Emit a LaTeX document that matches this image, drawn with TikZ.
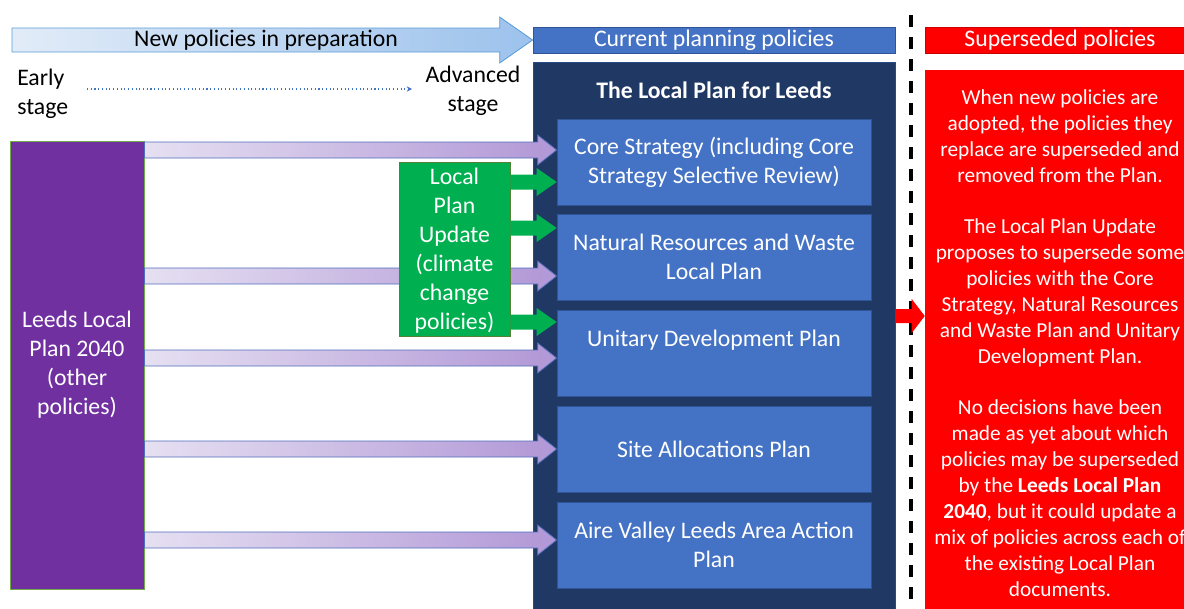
\documentclass[tikz,border=0pt]{standalone}
\usepackage{fontspec}
\setmainfont{Carlito}
\usetikzlibrary{calc,arrows.meta}
\definecolor{navy}{HTML}{203864}
\definecolor{bluebox}{HTML}{4472C4}
\definecolor{blueedge}{HTML}{2F5597}
\definecolor{purplebox}{HTML}{7030A0}
\definecolor{greenbox}{HTML}{00B050}
\definecolor{greenedge}{HTML}{548235}
\definecolor{lightgreen}{HTML}{70AD47}
\definecolor{redbox}{HTML}{FF0000}
\definecolor{topl}{HTML}{E2ECF8}
\definecolor{topr}{HTML}{9CC2EC}
\definecolor{topedge}{HTML}{5B9BD5}
\definecolor{purl}{HTML}{E6E0F2}
\definecolor{purr}{HTML}{B197D6}
\definecolor{puredge}{HTML}{4F6DBA}
\newcommand\pxu{0.75pt}
% #1 style, #2 from, #3 to, #4 half shaft, #5 half head, #6 head length
\newcommand\fatarrow[6]{%
  \path[#1] ($(#2)+(0,-#4)$) -- ($(#3)+(-#6,-#4)$) -- ($(#3)+(-#6,-#5)$) -- (#3)
    -- ($(#3)+(-#6,#5)$) -- ($(#3)+(-#6,#4)$) -- ($(#2)+(0,#4)$) -- cycle;}
\begin{document}
\begin{tikzpicture}[x=0.75pt,y=-0.75pt,
  every node/.style={font=\fontsize{17.8}{21.75}\selectfont, text=white, align=center, inner sep=0pt},
  planbox/.style={fill=bluebox, draw=blueedge, line width=0.5pt, minimum width=314*\pxu, minimum height=86*\pxu},
  hdr/.style={line width=0.5pt, minimum height=26*\pxu},
  toparrow/.style={left color=topl, right color=topr, draw=topedge, line width=0.6pt},
  purplearrow/.style={left color=purl, right color=purr, draw=puredge, line width=0.6pt},
  greenarrow/.style={fill=greenbox},
  redarrow/.style={fill=redbox}
]
\useasboundingbox (0,0) rectangle (1184,608);
\clip (0,0) rectangle (1184,608);

% header row
\node[hdr, fill=bluebox, draw=blueedge, minimum width=362*\pxu] (cur) at (714,40) {Current planning policies};
\node[hdr, fill=redbox, draw=red!80!black, minimum width=270*\pxu] (supt) at (1060,40) {Superseded policies};
\coordinate (ta) at (12,40);
\fatarrow{toparrow}{ta}{cur.west}{12}{23}{33}
\node[text=black] (npp) at (266,40) {New policies in preparation};

% stages
\node[text=black, align=left, anchor=west] (early) at (17,94) {Early\\stage};
\node[text=black] (adv) at (473,90.5) {Advanced\\stage};
\coordinate (d1) at (87,89);
\coordinate (d2) at (412,89);
\draw[bluebox, dotted, line width=0.8pt, -{Stealth[length=4pt,width=4pt]}] (d1) -- (d2);

% dashed divider
\coordinate (dv1) at (911,15);
\coordinate (dv2) at (911,612);
\draw[black, line width=2.4pt, dash pattern=on 9pt off 7.5pt] (dv1) -- (dv2);

% navy container
\node[fill=navy, draw=blueedge!60!navy, line width=0.5pt, minimum width=362*\pxu, minimum height=560*\pxu, anchor=north] (navy) at (714,62) {};
\node[font=\fontsize{17.8}{21.75}\selectfont\bfseries] (lpl) at (714,90) {The Local Plan for Leeds};

% plan boxes
\node[planbox] (core) at (714,162) {Core Strategy (including Core\\Strategy Selective Review)};
\node[planbox] (nat) at (714,257) {Natural Resources and Waste\\Local Plan};
\node[planbox] (udp) at (714,353) {};
\node (udpt) at (714,340) {Unitary Development Plan};
\node[planbox] (sap) at (714,449) {Site Allocations Plan};
\node[planbox] (avl) at (714,545) {Aire Valley Leeds Area Action\\Plan};

% purple box
\node[fill=purplebox, draw=lightgreen, line width=0.6pt, minimum width=134*\pxu, minimum height=448*\pxu] (llp) at (77,365) {Leeds Local\\Plan 2040\\(other\\policies)};

% purple arrows
\coordinate (r1) at (0,150);
\coordinate (r2) at (0,276);
\coordinate (r3) at (0,358);
\coordinate (r4) at (0,449);
\coordinate (r5) at (0,540);
\coordinate (p1s) at (llp.east |- r1); \coordinate (p1e) at (core.west |- r1);
\coordinate (p2s) at (llp.east |- r2); \coordinate (p2e) at (nat.west |- r2);
\coordinate (p3s) at (llp.east |- r3); \coordinate (p3e) at (udp.west |- r3);
\coordinate (p4s) at (llp.east |- r4); \coordinate (p4e) at (sap.west |- r4);
\coordinate (p5s) at (llp.east |- r5); \coordinate (p5e) at (avl.west |- r5);
\fatarrow{purplearrow}{p1s}{p1e}{8}{15}{19}
\fatarrow{purplearrow}{p2s}{p2e}{8}{15}{19}
\fatarrow{purplearrow}{p3s}{p3e}{8}{15}{19}
\fatarrow{purplearrow}{p4s}{p4e}{8}{15}{19}
\fatarrow{purplearrow}{p5s}{p5e}{8}{15}{19}

% green box and arrows
\node[fill=greenbox, draw=greenedge, line width=0.6pt, minimum width=111*\pxu, minimum height=174*\pxu] (lpu) at (454.5,249) {};
\node (lput) at (454.5,251) {Local\\Plan\\Update\\(climate\\change\\policies)};
\coordinate (g1) at (0,182);
\coordinate (g2) at (0,228);
\coordinate (g3) at (0,322);
\coordinate (g1s) at (lpu.east |- g1); \coordinate (g1e) at (core.west |- g1);
\coordinate (g2s) at (lpu.east |- g2); \coordinate (g2e) at (nat.west |- g2);
\coordinate (g3s) at (lpu.east |- g3); \coordinate (g3e) at (udp.west |- g3);
\fatarrow{greenarrow}{g1s}{g1e}{7.5}{14}{20}
\fatarrow{greenarrow}{g2s}{g2e}{7.5}{14}{20}
\fatarrow{greenarrow}{g3s}{g3e}{7.5}{14}{20}

% superseded text box
\node[fill=redbox, minimum width=270*\pxu, minimum height=560*\pxu, anchor=north] (sup) at (1060,70) {};
\coordinate (rr) at (0,316);
\coordinate (ra) at (navy.east |- rr);
\coordinate (rb) at (sup.west |- rr);
\fatarrow{redarrow}{ra}{rb}{7}{17}{13}
\node[font=\fontsize{16}{19.5}\selectfont] (supx) at (1060,343) {When new policies are\\adopted, the policies they\\replace are superseded and\\removed from the Plan.\\[18.5pt]
The Local Plan Update\\proposes to supersede some\\policies with the Core\\Strategy, Natural Resources\\and Waste Plan and Unitary\\Development Plan.\\[18.5pt]
No decisions have been\\made as yet about which\\policies may be superseded\\by the \textbf{Leeds Local Plan}\\\textbf{2040}, but it could update a\\mix of policies across each of\\the existing Local Plan\\documents.};
\end{tikzpicture}
\end{document}
